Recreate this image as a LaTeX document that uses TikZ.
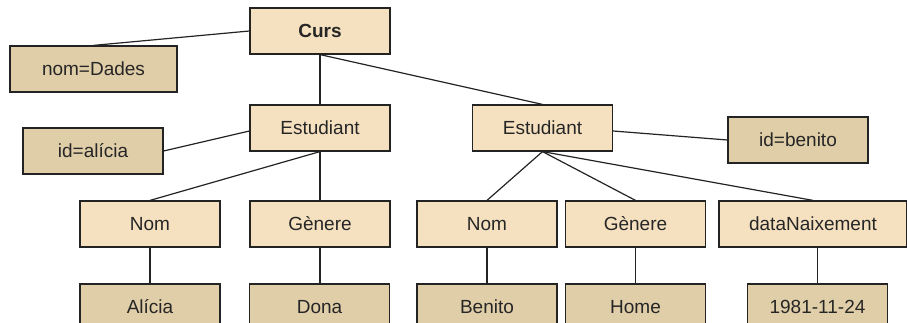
\documentclass[tikz,border=0pt]{standalone}
\usepackage{fontspec}
\setmainfont{Liberation Sans}
\definecolor{elemfill}{RGB}{245,225,192}
\definecolor{attrfill}{RGB}{224,206,168}
\definecolor{edgecol}{RGB}{35,35,35}
\begin{document}
\begin{tikzpicture}[x=1pt,y=-1pt,
  box/.style={draw=edgecol, line width=1.2pt, minimum height=46pt, minimum width=140pt, inner sep=0pt, font=\fontsize{19}{22}\selectfont, text=black!85},
  elem/.style={box, fill=elemfill},
  attr/.style={box, fill=attrfill},
  link/.style={draw=edgecol, line width=1.2pt}]
\useasboundingbox (0,0) rectangle (907,323);
\node[elem, font=\bfseries\fontsize{19}{22}\selectfont] (curs) at (320,31) {Curs};
\node[attr, minimum width=167pt] (nomd) at (93.5,69) {nom=Dades};
\node[elem] (e1) at (320,128) {Estudiant};
\node[attr] (ida) at (93,151) {id=alícia};
\node[elem] (e2) at (542.5,128) {Estudiant};
\node[attr] (idb) at (798,140) {id=benito};
\node[elem] (nom1) at (150,224) {Nom};
\node[elem] (gen1) at (320,224) {Gènere};
\node[elem] (nom2) at (487,224) {Nom};
\node[elem] (gen2) at (635.5,224) {Gènere};
\node[elem, minimum width=188pt] (data) at (813,224) {dataNaixement};
\node[attr] (v1) at (150,307) {Alícia};
\node[attr] (v2) at (319.5,307) {Dona};
\node[attr] (v3) at (487,307) {Benito};
\node[attr] (v4) at (635.5,307) {Home};
\node[attr] (v5) at (817.5,307) {1981-11-24};
\draw[link] (nomd.north) -- (curs.west);
\draw[link] (curs.south) -- (e1.north);
\draw[link] (curs.south) -- (e2.north);
\draw[link] ([yshift=-3pt]e1.west) -- (ida.east);
\draw[link] (e1.south) -- (nom1.north);
\draw[link] (e1.south) -- (gen1.north);
\draw[link] ([yshift=-3pt]e2.east) -- (idb.west);
\draw[link] (e2.south) -- (nom2.north);
\draw[link] (e2.south) -- (gen2.north);
\draw[link] (e2.south) -- (data.north);
\draw[link] (nom1.south) -- (v1.north);
\draw[link] (gen1.south) -- (gen1.south |- v2.north);
\draw[link] (nom2.south) -- (v3.north);
\draw[link] (gen2.south) -- (v4.north);
\draw[link] (v5.north |- data.south) -- (v5.north);
\end{tikzpicture}
\end{document}
